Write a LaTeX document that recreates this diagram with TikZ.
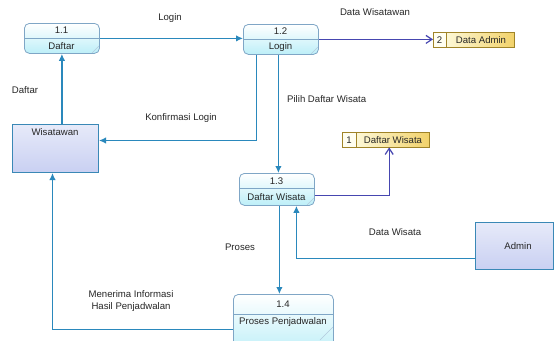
\documentclass[tikz,border=0pt]{standalone}
\usepackage{fontspec}
\setmainfont{Liberation Sans}
\usetikzlibrary{arrows.meta}
\definecolor{flowc}{HTML}{2A88BC}
\definecolor{storec}{HTML}{4646B0}
\definecolor{procb}{HTML}{7FA6C6}
\definecolor{entb}{HTML}{3A88B6}
\definecolor{dsb}{HTML}{A08428}
\definecolor{procf}{HTML}{BDEFF8}
\definecolor{entf}{HTML}{C9D0F2}
\definecolor{dsf}{HTML}{F2D26A}
\tikzset{
  proc/.style={draw=procb, line width=0.8pt, rounded corners=5pt, top color=white, bottom color=procf, anchor=north west, inner sep=0pt},
  ent/.style={draw=entb, line width=1pt, top color=entf!45, bottom color=entf, anchor=north west, inner sep=0pt},
  dstore/.style={left color=yellow!8, right color=dsf, anchor=north west, inner sep=0pt},
  dsframe/.style={draw=dsb, line width=0.8pt},
  lbl/.style={font=\fontsize{9.6}{11.5}\selectfont, inner sep=0pt, text=black!85},
  flow/.style={draw=flowc, line width=1.4pt, -{Latex[length=7pt,width=6.5pt]}},
  sflow/.style={draw=storec, line width=1.2pt, -{Straight Barb[length=6pt,width=8pt]}},
}
\begin{document}
\begin{tikzpicture}[x=1pt,y=-1pt]
\useasboundingbox (0,0) rectangle (554,340);
\clip (0,0) rectangle (554,340);
\fill[white] (0,0) rectangle (554,340);
% processes
\node[proc, minimum width=75pt, minimum height=30pt] (p11) at (24,23) {};
\node[proc, minimum width=75pt, minimum height=30pt] (p12) at (243,24) {};
\node[proc, minimum width=75pt, minimum height=32pt] (p13) at (239,173) {};
\node[proc, minimum width=100pt, minimum height=60pt] (p14) at (233,294) {};
\draw[procb, line width=0.8pt] (24,38.5) -- (99,38.5);
\draw[procb, line width=0.8pt] (243,39.5) -- (318,39.5);
\draw[procb, line width=0.8pt] (239,188.5) -- (314,188.5);
\draw[procb, line width=0.8pt] (233,314.5) -- (333,314.5);
\draw[procb!60, line width=0.5pt] (92,53) -- (99,46);
\draw[procb!60, line width=0.5pt] (311,54) -- (318,47);
\draw[procb!60, line width=0.5pt] (307,205) -- (314,198);
\draw[procb!60, line width=0.5pt] (320,340) -- (333,327);
\node[lbl] (t11a) at (61.5,30.5) {1.1};
\node[lbl] (t11b) at (61.5,46) {Daftar};
\node[lbl] (t12a) at (280.5,31.5) {1.2};
\node[lbl] (t12b) at (280.5,47) {Login};
\node[lbl] (t13a) at (276.5,181) {1.3};
\node[lbl] (t13b) at (276.5,197) {Daftar Wisata};
\node[lbl] (t14a) at (283,304.5) {1.4};
\node[lbl] (t14b) at (283,322.5) {Proses Penjadwalan};
% entities
\node[ent, minimum width=86pt, minimum height=48pt] (wis) at (12,124) {};
\node[lbl] (twis) at (55,132.5) {Wisatawan};
\node[ent, minimum width=78pt, minimum height=47pt] (adm) at (475,222) {};
\node[lbl] (tadm) at (518,246) {Admin};
% data stores
\node[dstore, minimum width=81pt, minimum height=15pt] (da) at (433,32) {};
\fill[yellow!6] (433,32) rectangle (446,47);
\draw[dsframe] (da.north west) rectangle (da.south east);
\draw[dsframe] (446,32) -- (446,47);
\node[lbl] (tda1) at (439.5,39.7) {2};
\node[lbl] (tda2) at (481,39.7) {Data Admin};
\node[dstore, minimum width=87pt, minimum height=15pt] (dw) at (342,132) {};
\fill[yellow!6] (342,132) rectangle (356,147);
\draw[dsframe] (dw.north west) rectangle (dw.south east);
\draw[dsframe] (356,132) -- (356,147);
\node[lbl] (tdw1) at (349,139.7) {1};
\node[lbl] (tdw2) at (393,139.7) {Daftar Wisata};
% connectors
\draw[flow] (p11.east) -- (p11.east -| p12.west);
\draw[sflow] (p12.east) -- (p12.east -| da.west);
\draw[flow] (p11.south |- wis.north) -- (p11.south);
\draw[flow] ([xshift=-24.5pt]p12.south) |- ([yshift=8pt]wis.east);
\draw[flow] ([xshift=-2.5pt]p12.south) -- ([xshift=-2.5pt]p12.south |- p13.north);
\draw[sflow] ([yshift=-6pt]p13.east) -| ([xshift=3.5pt]dw.south);
\draw[flow] ([xshift=2.5pt]p13.south) -- ([xshift=2.5pt]p13.south |- p14.north);
\draw[flow] ([yshift=-12.5pt]adm.west) -| ([xshift=19.5pt]p13.south);
\draw[flow] ([yshift=-5pt]p14.west) -| ([xshift=-3pt]wis.south);
% labels
\node[lbl] (lLogin) at (170,18) {Login};
\node[lbl] (lDW) at (375,12.5) {Data Wisatawan};
\node[lbl] (lDaftar) at (25,90) {Daftar};
\node[lbl] (lKonf) at (181,118.5) {Konfirmasi Login};
\node[lbl, anchor=west] (lPilih) at (287,99) {Pilih Daftar Wisata};
\node[lbl] (lDWis) at (395,232) {Data Wisata};
\node[lbl] (lProses) at (240,247) {Proses};
\node[lbl, align=center] (lMen) at (131,301) {Menerima Informasi\\ Hasil Penjadwalan};
\end{tikzpicture}
\end{document}
